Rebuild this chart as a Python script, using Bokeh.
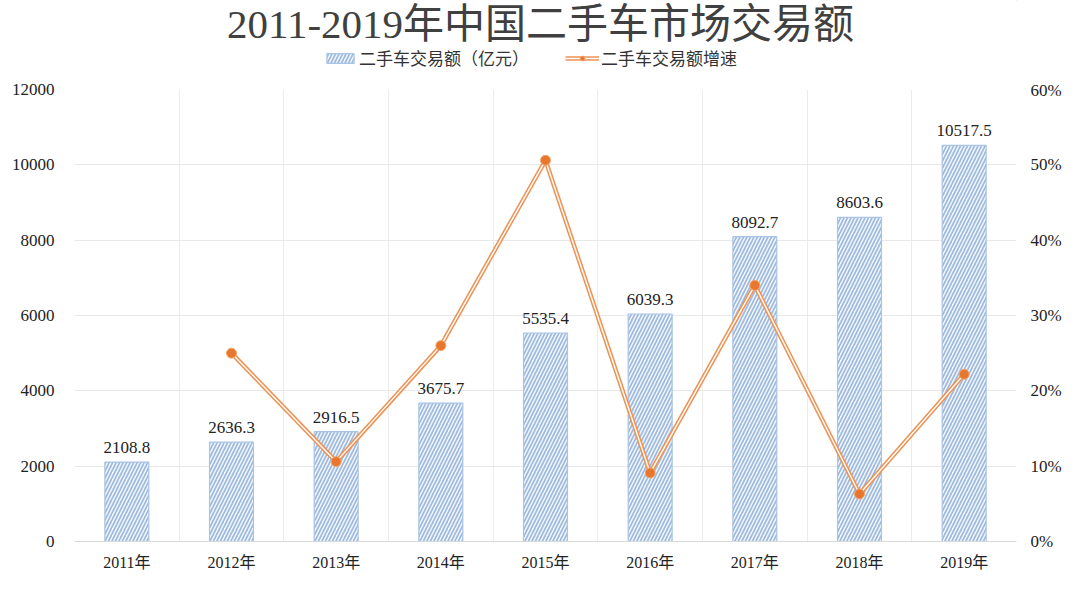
from bokeh.plotting import figure
from bokeh.layouts import column
from bokeh.models import (Range1d, LinearAxis, FixedTicker, NumeralTickFormatter,
                          Legend, LegendItem, CustomJSTickFormatter, Label)
from bokeh.core.properties import value
from bokeh.embed import file_html
from bokeh.resources import INLINE

title_text = "2011-2019年中国二手车市场交易额"
series_names = ["二手车交易额（亿元）", "二手车交易额增速"]
years = ["2011年", "2012年", "2013年", "2014年", "2015年", "2016年", "2017年", "2018年", "2019年"]
amount = [2108.8, 2636.3, 2916.5, 3675.7, 5535.4, 6039.3, 8092.7, 8603.6, 10517.5]
growth_years_idx = [1, 2, 3, 4, 5, 6, 7, 8]
growth = [0.250, 0.106, 0.260, 0.506, 0.091, 0.340, 0.063, 0.222]
left_ticks = [0, 2000, 4000, 6000, 8000, 10000, 12000]
right_ticks = [0, 0.1, 0.2, 0.3, 0.4, 0.5, 0.6]

SERIF = "Liberation Serif, Noto Sans CJK SC"
CJK = "Liberation Serif, Noto Sans CJK SC"

BAR_STYLE = dict(fill_color="#F4F7FC", hatch_pattern="/", hatch_color="#9EBADD",
                 hatch_scale=7, hatch_weight=1.7, line_color="#A9C4E5", line_width=1.2)
LINE_OUT = dict(line_color="#EE9356", line_width=4.5)
LINE_IN = dict(line_color="white", line_width=1.4)
MARK = dict(size=10, fill_color="#E8762C", line_color="#F3A772", line_width=1)

centers = [i + 0.5 for i in range(len(years))]
gx = [centers[i] for i in growth_years_idx]

W = 1064
TOPH = 80
H = 573 - TOPH
LEFT = 74
RIGHT = 26

# ---------- header (title + legend); its frame is aligned with the chart frame ----------
h = figure(width=W, height=TOPH, output_backend="svg", toolbar_location=None,
           x_range=Range1d(0, 1), y_range=Range1d(0, 1),
           min_border=0)
h.axis.visible = False
h.grid.visible = False
h.outline_line_color = None
# legend proxies, kept outside the visible range of the header
hb = h.vbar(x=[5], top=[5], bottom=[4], width=0.4, **BAR_STYLE)
hl1 = h.line([5, 6], [5, 6], **LINE_OUT)
hl2 = h.line([5, 6], [5, 6], **LINE_IN)
hm = h.scatter([5], [5], **MARK)

h.add_layout(Label(x=540 - LEFT, y=TOPH - 23, x_units="screen", y_units="screen",
                   text=title_text, text_align="center", text_baseline="middle",
                   text_font=CJK, text_font_size="41px", text_color="#404040"))

legend = Legend(items=[
    LegendItem(label=series_names[0], renderers=[hb]),
    LegendItem(label=series_names[1], renderers=[hl1, hl2, hm]),
], location=(323 - LEFT, 10), orientation="horizontal")
legend.label_text_font = CJK
legend.label_text_font_size = "17px"
legend.label_text_color = "#333333"
legend.glyph_width = 34
legend.glyph_height = 12
legend.spacing = 36
legend.padding = 0
legend.margin = 0
legend.label_standoff = 2
legend.border_line_color = None
legend.background_fill_alpha = 0
h.add_layout(legend, "center")

# ---------- main chart ----------
p = figure(width=W, height=H, output_backend="svg", toolbar_location=None,
           x_range=Range1d(0, len(years)), y_range=Range1d(0, 12000),
           min_border_top=9, min_border_bottom=30,
           min_border_left=LEFT, min_border_right=RIGHT)
p.outline_line_color = None
p.background_fill_color = "white"
p.border_fill_color = "white"
p.extra_y_ranges = {"pct": Range1d(0, 0.6)}

p.yaxis.ticker = FixedTicker(ticks=left_ticks)
p.yaxis.axis_line_color = None
p.yaxis.major_tick_line_color = None
p.yaxis.minor_tick_line_color = None
p.yaxis.major_label_text_font = SERIF
p.yaxis.major_label_text_font_size = "17px"
p.yaxis.major_label_text_color = "#222222"
p.yaxis.major_label_standoff = 14

ra = LinearAxis(y_range_name="pct", ticker=FixedTicker(ticks=right_ticks),
                formatter=NumeralTickFormatter(format="0%"))
ra.axis_line_color = None
ra.major_tick_line_color = None
ra.minor_tick_line_color = None
ra.major_label_text_font = SERIF
ra.major_label_text_font_size = "17px"
ra.major_label_text_color = "#222222"
ra.major_label_standoff = 8
p.add_layout(ra, "right")

p.xaxis.ticker = FixedTicker(ticks=centers)
p.xaxis.formatter = CustomJSTickFormatter(args=dict(labels=years),
                                          code="return labels[Math.round(tick - 0.5)];")
p.xaxis.axis_line_color = "#D9D9D9"
p.xaxis.major_tick_line_color = None
p.xaxis.minor_tick_line_color = None
p.xaxis.major_label_text_font = SERIF
p.xaxis.major_label_text_font_size = "16px"
p.xaxis.major_label_text_color = "#222222"
p.xaxis.major_label_standoff = 6

p.ygrid.grid_line_color = "#E8E8E8"
p.xgrid.ticker = FixedTicker(ticks=list(range(len(years) + 1)))
p.xgrid.grid_line_color = "#ECECEC"

p.vbar(x=centers, top=amount, width=0.42, **BAR_STYLE)
p.text(x=centers, y=amount, text=[f"{v}" for v in amount], y_offset=-9,
       text_align="center", text_baseline="bottom", text_font=value(SERIF),
       text_font_size="17px", text_color="#222222")

p.line(gx, growth, y_range_name="pct", **LINE_OUT)
p.line(gx, growth, y_range_name="pct", **LINE_IN)
p.scatter(gx, growth, y_range_name="pct", **MARK)

layout = column(h, p, spacing=0)
open("out.html", "w").write(file_html(layout, INLINE))
